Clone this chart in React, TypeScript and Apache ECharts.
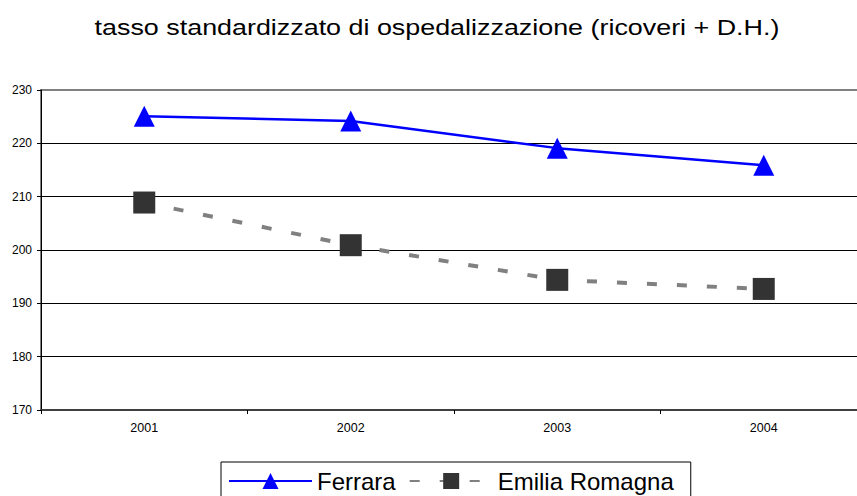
import React, { useEffect, useRef } from "react";
import * as echarts from "echarts";

const years = ["2001", "2002", "2003", "2004"];
const ferrara = [225.1, 224.2, 219.1, 215.9];
const emilia = [208.9, 200.9, 194.4, 192.7];
const titleText = "tasso standardizzato di ospedalizzazione (ricoveri + D.H.)";
const FONT = "'Liberation Sans', Arial, sans-serif";

export default function App() {
  const ref = useRef<HTMLDivElement>(null);
  useEffect(() => {
    if (!ref.current) return;
    const chart = echarts.init(ref.current, undefined, { renderer: "svg" });
    chart.setOption({
      animation: false,
      backgroundColor: "#ffffff",
      graphic: [
        {
          type: "text",
          x: 437,
          y: 27,
          scaleX: 1.2,
          style: {
            text: titleText,
            fontFamily: FONT,
            fontSize: 22.4,
            fill: "#000",
            align: "center",
            verticalAlign: "middle",
          },
        },
      ],
      legend: {
        left: 221,
        top: 462,
        padding: [7, 17, 12, 7],
        itemWidth: 83,
        itemHeight: 20,
        itemGap: 13,
        borderColor: "#000",
        borderWidth: 1,
        backgroundColor: "#fff",
        textStyle: { fontFamily: FONT, fontSize: 24, color: "#000" },
        data: ["Ferrara", "Emilia Romagna"],
      },
      grid: {
        left: 41,
        top: 90,
        bottom: 86,
        right: 0,
        show: true,
        borderColor: "#808080",
        borderWidth: 2,
        backgroundColor: "transparent",
      },
      xAxis: {
        type: "category",
        data: years,
        boundaryGap: true,
        axisLine: { lineStyle: { color: "#404040", width: 2 } },
        axisTick: { show: true, length: 4, inside: false, lineStyle: { color: "#000" } },
        axisLabel: { fontFamily: FONT, fontSize: 12.5, color: "#000", margin: 11 },
        splitLine: { show: false },
      },
      yAxis: {
        type: "value",
        min: 170,
        max: 230,
        interval: 10,
        axisLine: { show: true, lineStyle: { color: "#000", width: 1 } },
        axisTick: { show: true, length: 4, lineStyle: { color: "#000" } },
        axisLabel: { fontFamily: FONT, fontSize: 12, color: "#000", margin: 9 },
        splitLine: { show: true, showMaxLine: false, showMinLine: false, lineStyle: { color: "#000", width: 1 } },
      },
      series: [
        {
          name: "Ferrara",
          type: "line",
          data: ferrara,
          symbol: "triangle",
          symbolSize: [21, 21],
          itemStyle: { color: "#0000ff" },
          lineStyle: { color: "#0000ff", width: 2.5 },
          z: 3,
        },
        {
          name: "Emilia Romagna",
          type: "line",
          data: emilia,
          symbol: "rect",
          symbolSize: [22, 22],
          itemStyle: { color: "#333333" },
          lineStyle: { color: "#808080", width: 4, type: [10, 20] },
          z: 2,
        },
      ],
    });
    return () => chart.dispose();
  }, []);
  return (
    <div
      style={{ position: "fixed", left: 0, top: 0, width: 857, height: 496, overflow: "hidden", background: "#fff" }}
    >
      <div ref={ref} style={{ width: 867, height: 496 }} />
    </div>
  );
}
